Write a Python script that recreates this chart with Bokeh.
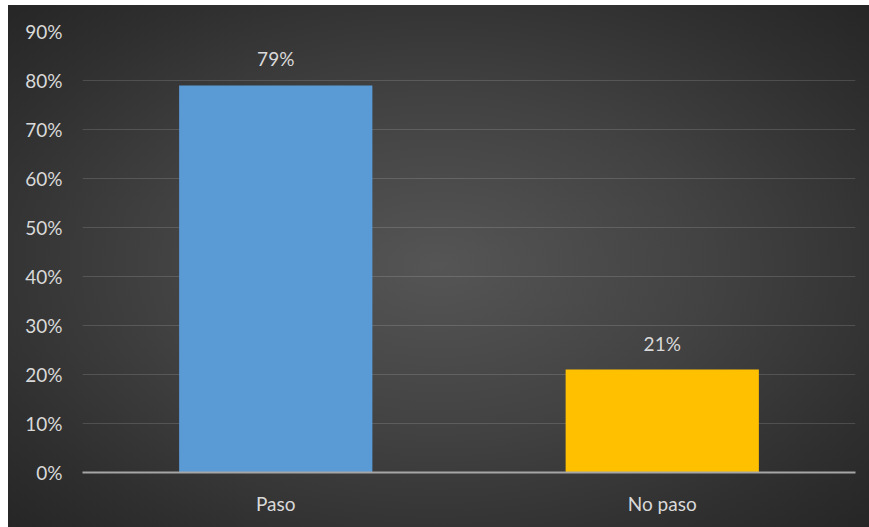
from bokeh.plotting import figure
from bokeh.models import ColumnDataSource, Range1d, FixedTicker, NumeralTickFormatter
from bokeh.core.properties import value
from bokeh.embed import file_html
from bokeh.resources import INLINE

# ---- data ----
categories = ["Paso", "No paso"]
shares = [0.79, 0.21]
share_labels = ["79%", "21%"]
y_ticks = [0.0, 0.1, 0.2, 0.3, 0.4, 0.5, 0.6, 0.7, 0.8, 0.9]

# ---- styling ----
bar_colors = ["#5b9bd5", "#ffc000"]
FONT = "Lato"
TEXT_COLOR = "#d9d9d9"

src = ColumnDataSource(dict(cat=categories, val=shares, lab=share_labels, col=bar_colors))

p = figure(
    x_range=categories,
    y_range=Range1d(0, 0.9),
    width=861, height=522,
    output_backend="svg", toolbar_location=None,
    min_border_left=74, min_border_right=14, min_border_top=26, min_border_bottom=55,
)
p.styles = {
    "background": "radial-gradient(ellipse at 50% 50%, #555555 0%, #424242 45%, #2f2f2f 80%, #262626 100%)",
    "margin-left": "8px",
    "margin-top": "5px",
}
p.border_fill_alpha = 0
p.background_fill_alpha = 0
p.outline_line_color = None

p.vbar(x="cat", top="val", width=0.5, fill_color="col", line_color=None, source=src)
p.text(x="cat", y="val", text="lab", source=src, y_offset=-15,
       text_align="center", text_baseline="bottom",
       text_font=value(FONT), text_font_size="19px", text_color=TEXT_COLOR)

# grid
p.xgrid.grid_line_color = None
p.ygrid.ticker = FixedTicker(ticks=y_ticks)
p.ygrid.grid_line_color = "#ffffff"
p.ygrid.grid_line_alpha = 0.14
p.ygrid.grid_line_width = 1

# y axis
p.yaxis.ticker = FixedTicker(ticks=y_ticks)
p.yaxis.formatter = NumeralTickFormatter(format="0%")
p.yaxis.axis_line_color = None
p.yaxis.major_tick_line_color = None
p.yaxis.minor_tick_line_color = None
p.yaxis.major_tick_in = 0
p.yaxis.major_tick_out = 0
p.yaxis.major_label_standoff = 20
p.yaxis.major_label_text_font = FONT
p.yaxis.major_label_text_font_size = "19px"
p.yaxis.major_label_text_color = TEXT_COLOR

# x axis
p.xaxis.axis_line_color = "#a6a6a6"
p.xaxis.axis_line_width = 2
p.xaxis.major_tick_line_color = None
p.xaxis.minor_tick_line_color = None
p.xaxis.major_tick_in = 0
p.xaxis.major_tick_out = 0
p.xaxis.major_label_standoff = 19
p.xaxis.major_label_text_font = FONT
p.xaxis.major_label_text_font_size = "19px"
p.xaxis.major_label_text_color = TEXT_COLOR

open("out.html", "w").write(file_html(p, INLINE))
